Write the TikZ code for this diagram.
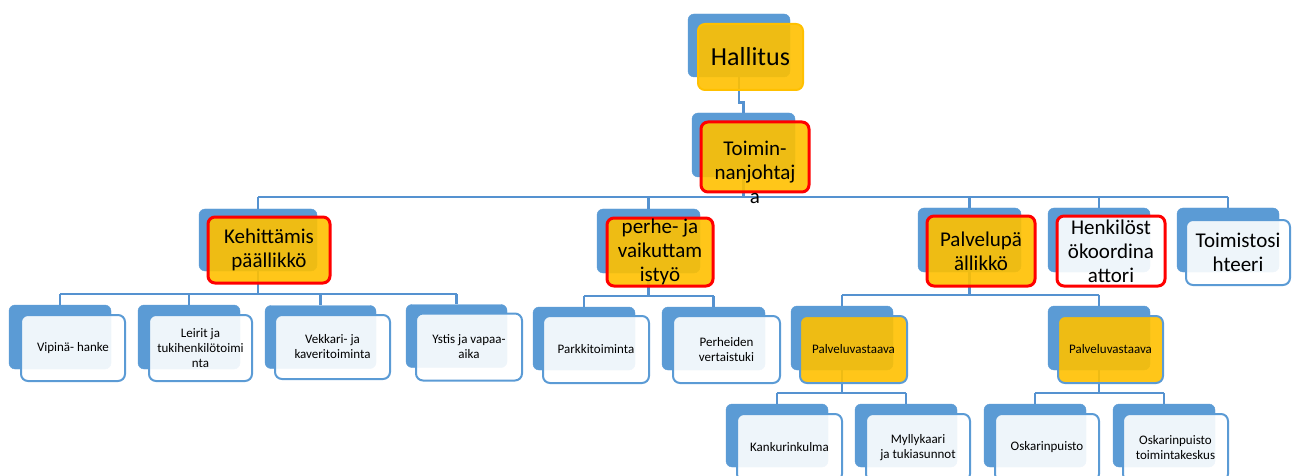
\documentclass[tikz,border=0pt]{standalone}
\usepackage{fontspec}
\setmainfont{Carlito}
\definecolor{bk}{HTML}{5B9BD5}
\definecolor{cn}{HTML}{5592D0}
\definecolor{yl}{HTML}{FFC000}
\definecolor{rd}{HTML}{FF0000}
\begin{document}
\begin{tikzpicture}[x=1pt,y=-1pt,
  back/.style={fill=bk, draw=bk, rounded corners=6pt, inner sep=0pt},
  frontw/.style={fill=white, fill opacity=0.9, text opacity=1, draw=bk, line width=2pt, rounded corners=7pt, inner sep=0pt, align=center, text=black},
  fronty/.style={fill=yl, fill opacity=0.9, text opacity=1, draw=bk, line width=2pt, rounded corners=7pt, inner sep=0pt, align=center, text=black},
  redb/.style={draw=rd, line width=3pt},
  big/.style={font=\fontsize{21}{24}\selectfont},
  small/.style={font=\fontsize{13}{15}\selectfont},
  conn/.style={draw=cn, line width=2.8pt},
  sz/.style 2 args={minimum width=#1pt, minimum height=#2pt}]
\useasboundingbox (0,0) rectangle (1294,476);
\clip (0,0) rectangle (1294,476);
% ---------- back boxes ----------
\node[back, sz={102}{63}] (hB) at (739,45.5) {};
\node[back, sz={103}{64}] (tjB) at (743.5,145) {};
\node[back, sz={118}{62}] (keB) at (258,240) {};
\node[back, sz={103}{64}] (peB) at (648.5,241) {};
\node[back, sz={103}{64}] (ppB) at (969.5,240) {};
\node[back, sz={102}{64}] (hkB) at (1099,240) {};
\node[back, sz={102}{64}] (tsB) at (1228,240) {};
\node[back, sz={102}{64}] (viB) at (60,337) {};
\node[back, sz={102}{64}] (leB) at (189,337) {};
\node[back, sz={111}{63}] (veB) at (320.5,337) {};
\node[back, sz={101}{63}] (ysB) at (456.5,336) {};
\node[back, sz={102}{63}] (paB) at (584,338.5) {};
\node[back, sz={103}{63}] (pvB) at (713.5,338.5) {};
\node[back, sz={102}{64}] (v1B) at (842,338) {};
\node[back, sz={102}{64}] (v2B) at (1099,338) {};
\node[back, sz={102}{63}] (kaB) at (777,435.5) {};
\node[back, sz={102}{63}] (myB) at (906,435.5) {};
\node[back, sz={102}{63}] (osB) at (1035,435.5) {};
\node[back, sz={102}{63}] (otB) at (1164,435.5) {};
% ---------- connectors ----------
\coordinate (bar1) at (0,197);
\coordinate (bar2) at (0,294);
\coordinate (bar3) at (0,296);
\coordinate (bar4) at (0,295);
\coordinate (bar5) at (0,393);
\draw[conn] (hB.south) -- ++(0,25) -| (tjB.north);
\draw[conn] (tjB.south) -- (tjB.south |- bar1);
\draw[conn] (keB.north |- bar1) -- (tsB.north |- bar1);
\foreach \n in {keB,peB,ppB,hkB,tsB} \draw[conn] (\n.north |- bar1) -- (\n.north);
\draw[conn] (keB.south) -- (keB.south |- bar2);
\draw[conn] (viB.north |- bar2) -- (ysB.north |- bar2);
\foreach \n in {viB,leB,veB,ysB} \draw[conn] (\n.north |- bar2) -- (\n.north);
\draw[conn] (peB.south) -- (peB.south |- bar3);
\draw[conn] (paB.north |- bar3) -- (pvB.north |- bar3);
\foreach \n in {paB,pvB} \draw[conn] (\n.north |- bar3) -- (\n.north);
\draw[conn] (ppB.south) -- (ppB.south |- bar4);
\draw[conn] (v1B.north |- bar4) -- (v2B.north |- bar4);
\foreach \n in {v1B,v2B} \draw[conn] (\n.north |- bar4) -- (\n.north);
\draw[conn] (v1B.south) -- (v1B.south |- bar5);
\draw[conn] (kaB.north |- bar5) -- (myB.north |- bar5);
\foreach \n in {kaB,myB} \draw[conn] (\n.north |- bar5) -- (\n.north);
\draw[conn] (v2B.south) -- (v2B.south |- bar5);
\draw[conn] (osB.north |- bar5) -- (otB.north |- bar5);
\foreach \n in {osB,otB} \draw[conn] (\n.north |- bar5) -- (\n.north);
% ---------- front boxes ----------
\node[fronty, draw=yl, sz={105}{66}, font=\fontsize{26}{30}\selectfont] (hF) at (750.5,57) {Hallitus};
\node[fronty, redb, sz={108}{70}] (tjF) at (755,157) {};
\node[big, align=center, inner sep=0pt] (tjT) at (755,172) {Toimin-\\nanjohtaj\\a};
\node[fronty, redb, big, sz={122}{66}] (keF) at (269,250) {Kehittämis\\päällikkö};
\node[fronty, redb, big, sz={106}{68}] (peF) at (660,252) {perhe- ja\\vaikuttam\\istyö};
\node[fronty, redb, big, sz={108}{70}] (ppF) at (981,251) {Palvelupä\\ällikkö};
\node[frontw, redb, big, sz={108}{70}] (hkF) at (1111,251) {Henkilöst\\ökoordina\\attori};
\node[frontw, big, sz={104}{65}] (tsF) at (1238,252.5) {Toimistosi\\hteeri};
\node[frontw, small, sz={104}{66}] (viF) at (73,348) {Vipinä- hanke};
\node[frontw, small, sz={103}{66}] (leF) at (200.5,348) {Leirit ja\\tukihenkilötoimi\\nta};
\node[frontw, small, sz={115}{64}] (veF) at (332.5,347) {Vekkari- ja\\kaveritoiminta};
\node[frontw, small, sz={106}{67}] (ysF) at (469,347) {Ystis ja vapaa-\\aika};
\node[frontw, small, sz={106}{67}] (paF) at (596,349.5) {Parkkitoiminta};
\node[frontw, small, sz={107}{67}] (pvF) at (726.5,349.5) {Perheiden\\vertaistuki};
\node[fronty, small, sz={107}{67}] (v1F) at (853.5,349.5) {Palveluvastaava};
\node[fronty, small, sz={105}{67}] (v2F) at (1110.5,349.5) {Palveluvastaava};
\node[frontw, small, sz={105}{67}] (kaF) at (789.5,447.5) {Kankurinkulma};
\node[frontw, small, sz={104}{67}] (myF) at (918,447.5) {Myllykaari\\ja tukiasunnot};
\node[frontw, small, sz={104}{67}] (osF) at (1047,447.5) {Oskarinpuisto};
\node[frontw, small, sz={105}{67}] (otF) at (1175.5,447.5) {Oskarinpuisto\\toimintakeskus};
\end{tikzpicture}
\end{document}
